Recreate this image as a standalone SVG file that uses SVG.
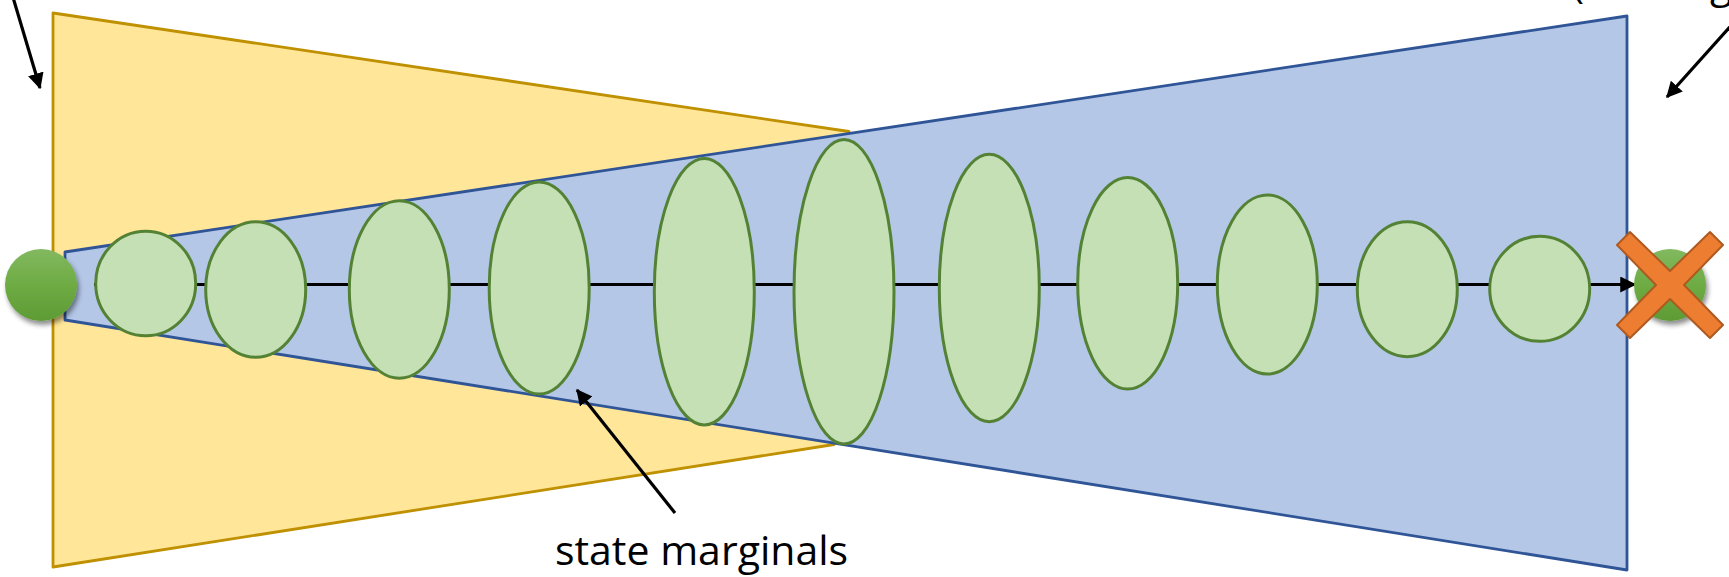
<svg xmlns="http://www.w3.org/2000/svg" width="1729" height="577" viewBox="0 0 1729 577">
<defs>
<style>
.yel{fill:#FFE699;stroke:#BF9000;stroke-width:2.8;stroke-linejoin:round}
.blu{fill:#B4C7E7;stroke:#2F5597;stroke-width:2.8;stroke-linejoin:round}
.marg{fill:#C5E0B4;stroke:#548235;stroke-width:3}
.dot{fill:url(#gg);filter:url(#sh)}
.cross{fill:#ED7D31;stroke:#AE5A21;stroke-width:2;stroke-linejoin:round}
.conn{fill:none;stroke:#000;stroke-width:3.2;marker-end:url(#ah)}
.lbl{font-family:"Open Sans","Liberation Sans",sans-serif;font-size:41px;fill:#000}
</style>
<marker id="ah" viewBox="0 0 5 5" refX="4.6" refY="2.5" markerWidth="5" markerHeight="5" orient="auto" markerUnits="strokeWidth">
<path d="M0,0 L5,2.5 L0,5 z" fill="#000"/>
</marker>
<linearGradient id="gg" x1="0" y1="0" x2="0" y2="1">
<stop offset="0" stop-color="#82B960"/>
<stop offset="0.5" stop-color="#6EAB43"/>
<stop offset="1" stop-color="#5E9B35"/>
</linearGradient>
<filter id="sh" x="-30%" y="-30%" width="170%" height="170%">
<feDropShadow dx="2" dy="4" stdDeviation="2.5" flood-color="#000" flood-opacity="0.45"/>
</filter>
</defs>
<g id="prior-region"><polygon class="yel" points="53,13 849,131.5 834,444.5 53,567"/></g>
<g id="posterior-region"><polygon class="blu" points="65,252 1627,16 1627,570 65,320"/></g>
<g id="connectors">
<line class="conn" x1="94" y1="284.5" x2="1635" y2="284.5"/>
<line class="conn" x1="12" y1="-6" x2="40" y2="88"/>
<line class="conn" x1="1745" y1="10" x2="1667" y2="97"/>
<line class="conn" x1="675" y1="513" x2="577" y2="390"/>
</g>
<g id="marginal-1"><ellipse class="marg" cx="145.7" cy="283.5" rx="50" ry="52.3"/></g>
<g id="marginal-2"><ellipse class="marg" cx="255.7" cy="289.5" rx="50" ry="67.8"/></g>
<g id="marginal-3"><ellipse class="marg" cx="399.3" cy="289.5" rx="50" ry="88.8"/></g>
<g id="marginal-4"><ellipse class="marg" cx="539.2" cy="288" rx="50" ry="106"/></g>
<g id="marginal-5"><ellipse class="marg" cx="704.3" cy="291.7" rx="50" ry="133.3"/></g>
<g id="marginal-6"><ellipse class="marg" cx="844" cy="291.7" rx="50" ry="152.3"/></g>
<g id="marginal-7"><ellipse class="marg" cx="989.3" cy="288" rx="50" ry="133.7"/></g>
<g id="marginal-8"><ellipse class="marg" cx="1127.7" cy="283.3" rx="50" ry="105.7"/></g>
<g id="marginal-9"><ellipse class="marg" cx="1267.3" cy="284.5" rx="50" ry="89.5"/></g>
<g id="marginal-10"><ellipse class="marg" cx="1407.3" cy="289.2" rx="50" ry="67.5"/></g>
<g id="marginal-11"><ellipse class="marg" cx="1539.7" cy="288.8" rx="50" ry="52.5"/></g>
<g id="start-state"><circle class="dot" cx="41" cy="285" r="36"/></g>
<g id="end-state"><circle class="dot" cx="1670" cy="285" r="36"/>
<polygon class="cross" points="1630,232 1670,271 1710,232 1723,245 1684,285 1723,325 1710,338 1670,299 1630,338 1617,325 1656,285 1617,245"/></g>
<g id="label-marginals"><text class="lbl" x="701.5" y="565" text-anchor="middle">state marginals</text></g>
<g id="label-top"><text class="lbl" x="1572" y="-2">(</text><text class="lbl" x="1710" y="-2">g</text></g>
</svg>
